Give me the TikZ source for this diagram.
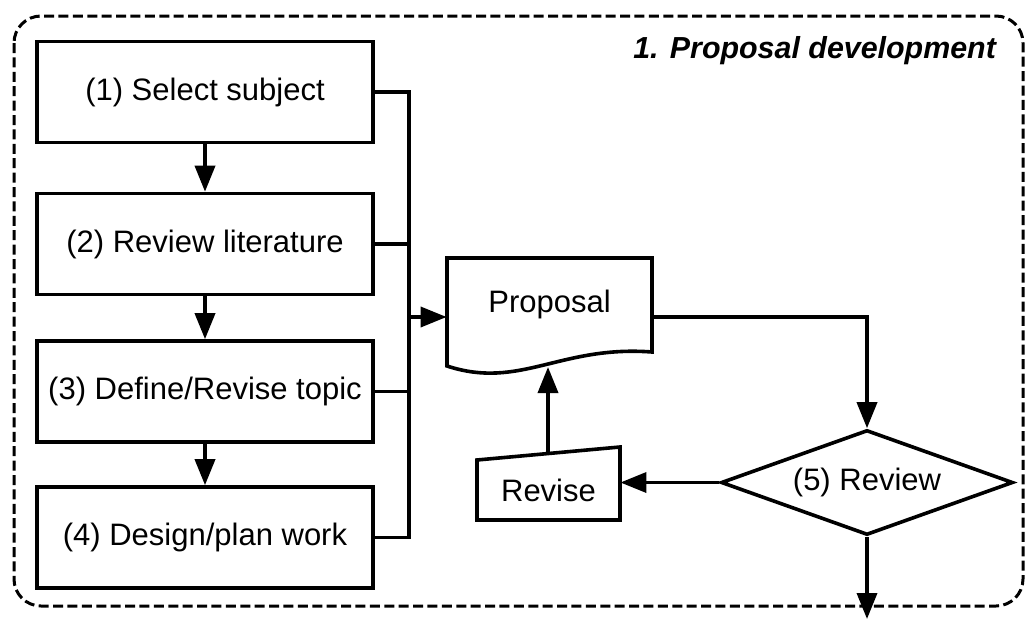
\documentclass[tikz,border=0pt]{standalone}
\usepackage{fontspec}
\setmainfont{Liberation Sans}
\usetikzlibrary{arrows.meta,shapes.geometric,calc}
\begin{document}
\begin{tikzpicture}[x=0.5pt,y=-0.5pt,
  font=\fontsize{15.5pt}{18pt}\selectfont,
  outline/.style={line width=1.8pt,line join=miter},
  box/.style={draw,line width=1.8pt,minimum width=168pt,minimum height=50.5pt,inner sep=0pt},
  arr/.style={line width=1.8pt,-{Triangle[length=13pt,width=10pt]}},
  conn/.style={line width=1.8pt},
  textonly/.style={inner sep=0pt},
  frame/.style={line width=1.5pt,dash pattern=on 5pt off 2.2pt,rounded corners=13.5pt}]
\useasboundingbox (0,0) rectangle (1027,621);
% group frame
\draw[frame] (14,16) rectangle (1023,606);
\node[anchor=base east,font=\fontsize{15.2pt}{18pt}\selectfont\bfseries\itshape] (title) at (1003,58) {1. Proposal development};
% process boxes
\node[box] (b1) at (205,92) {(1) Select subject};
\node[box] (b2) at (205,244) {(2) Review literature};
\node[box] (b3) at (205,391.5) {(3) Define/Revise topic};
\node[box] (b4) at (205,537.5) {(4) Design/plan work};
\draw[arr] (b1.south) -- (b2.north);
\draw[arr] (b2.south) -- (b3.north);
\draw[arr] (b3.south) -- (b4.north);
% bus
\coordinate (bt) at (409,92);
\coordinate (bb) at (409,537.5);
\coordinate (bm) at (409,317);
\draw[conn,line join=miter] (b1.east) -- (bt) -- (bb) -- (b4.east);
\draw[conn] (b2.east) -- (b2.east -| bt);
\draw[conn] (b3.east) -- (b3.east -| bt);
% proposal document
\node[textonly,minimum width=102.5pt,minimum height=54pt] (prop) at (549.5,312) {\raisebox{4pt}[\height][\depth]{Proposal}};
\draw[outline] (447,366) -- (447,258) -- (652,258) -- (652,352) .. controls (560,345) and (520,390) .. (447,366) -- cycle;
\draw[arr] (bm) -- (bm -| prop.west);
% review diamond
\node[draw,diamond,line width=1.8pt,aspect=2.78,minimum width=146pt,minimum height=52.5pt,inner sep=0pt] (dia) at (867,482.5) {(5) Review};
\coordinate (pr) at (867,317);
\draw[arr,line join=miter] (pr -| prop.east) -- (pr) -- (dia.north);
% revise manual input
\node[textonly,minimum width=71.5pt,minimum height=36.5pt] (rev) at (548.5,483.5) {\raisebox{-3.5pt}[\height][\depth]{Revise}};
\draw[outline] (477,520) -- (477,460) -- (620,447) -- (620,520) -- cycle;
\draw[arr] (dia.west) -- (rev.east |- dia.west);
\coordinate (rt) at (548,453.5);
\coordinate (pb) at (548,367);
\draw[arr] (rt) -- (pb);
% exit
\coordinate (out) at (867,619);
\draw[arr] (dia.south) -- (out);
\end{tikzpicture}
\end{document}
